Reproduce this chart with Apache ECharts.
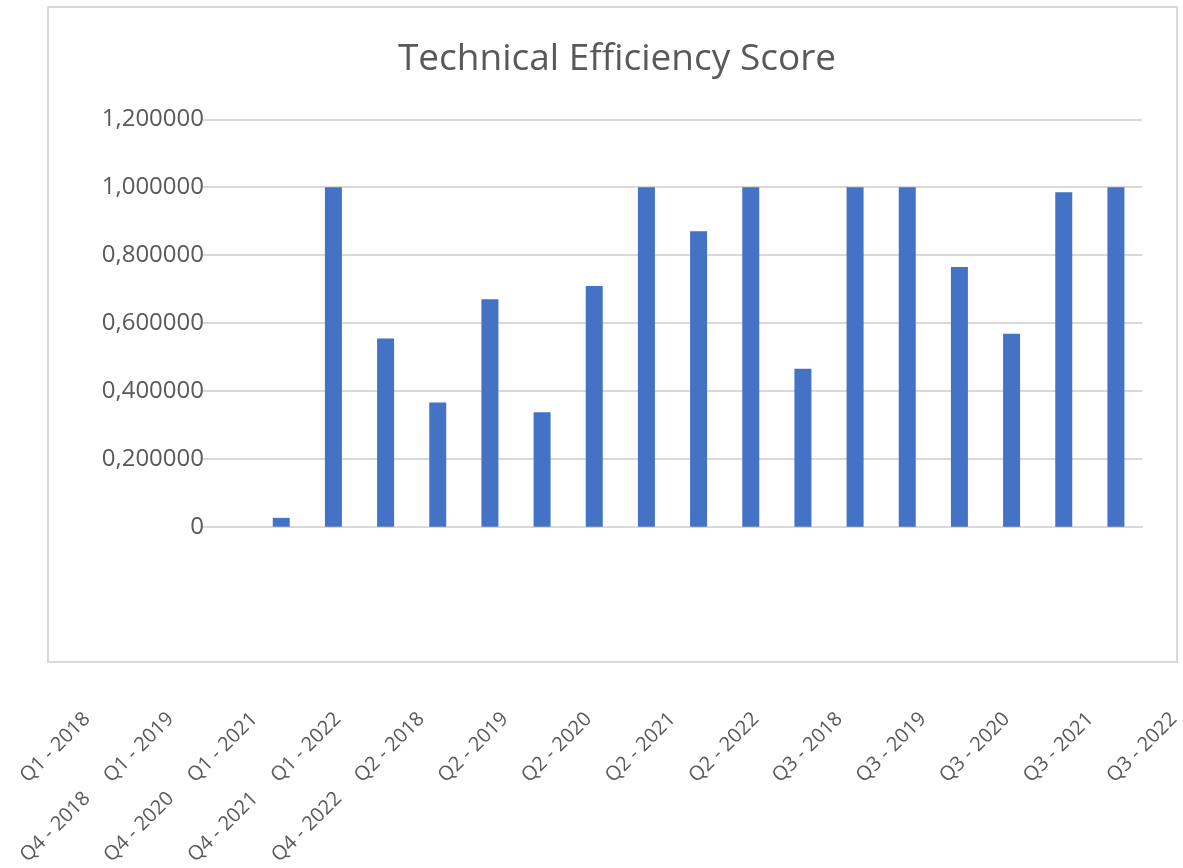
<!DOCTYPE html>
<html>
<head>
<meta charset="utf-8">
<script src="https://cdn.jsdelivr.net/npm/echarts@6/dist/echarts.min.js"></script>
<style>
html,body{margin:0;padding:0;background:#fff;}
#chart{width:1183px;height:868px;}
</style>
</head>
<body>
<div id="chart"></div>
<script>
// Categories (in order of the bars)
const categories = [
  'Q1 - 2018','Q1 - 2019','Q1 - 2021','Q1 - 2022',
  'Q2 - 2018','Q2 - 2019','Q2 - 2020','Q2 - 2021','Q2 - 2022',
  'Q3 - 2018','Q3 - 2019','Q3 - 2020','Q3 - 2021','Q3 - 2022',
  'Q4 - 2018','Q4 - 2020','Q4 - 2021','Q4 - 2022'
];
// Technical efficiency score per category (first category has no bar)
const scores = [
  null, 0.026, 1.000, 0.554,
  0.366, 0.670, 0.337, 0.709, 1.000,
  0.870, 1.000, 0.465, 1.000, 1.000,
  0.765, 0.568, 0.985, 1.000
];
// Label rows as shown under the chart
const labelRowTop = categories.slice(0, 14);
const labelRowBottom = categories.slice(14);
const yTicks = [0, 0.2, 0.4, 0.6, 0.8, 1.0, 1.2];
const titleText = 'Technical Efficiency Score';

const FONT = '"Open Sans", "Liberation Sans", sans-serif';
const GREY = '#595959';
const step = 83.85;

const chart = echarts.init(document.getElementById('chart'), null, {renderer: 'canvas'});
chart.setOption({
  animation: false,
  backgroundColor: '#ffffff',
  title: {
    text: titleText,
    left: 612,
    top: 36,
    textAlign: 'center',
    textStyle: {fontFamily: FONT, fontSize: 37, fontWeight: 'normal', color: GREY}
  },
  graphic: [{
    type: 'rect',
    shape: {x: 48, y: 7, width: 1129, height: 655},
    style: {fill: 'none', stroke: '#d9d9d9', lineWidth: 2},
    silent: true, z: -1
  }],
  grid: [
    {left: 203, right: 41, top: 119.3, height: 407.4, containLabel: false},
    {left: 87, width: step * 13, top: 690, height: 10},
    {left: 87, width: step * 3, top: 773, height: 10}
  ],
  xAxis: [
    {
      type: 'category', gridIndex: 0, data: categories,
      axisLine: {show: true, lineStyle: {color: '#d9d9d9', width: 2}},
      axisTick: {show: false},
      axisLabel: {show: false}
    },
    {
      type: 'category', gridIndex: 1, data: labelRowTop, boundaryGap: false,
      axisLine: {show: false}, axisTick: {show: false},
      axisLabel: {interval: 0, rotate: 45, margin: 16, hideOverlap: false,
        fontFamily: FONT, fontSize: 20, color: GREY}
    },
    {
      type: 'category', gridIndex: 2, data: labelRowBottom, boundaryGap: false,
      axisLine: {show: false}, axisTick: {show: false},
      axisLabel: {interval: 0, rotate: 45, margin: 16, hideOverlap: false,
        fontFamily: FONT, fontSize: 20, color: GREY}
    }
  ],
  yAxis: [
    {
      type: 'value', gridIndex: 0, min: yTicks[0], max: yTicks[yTicks.length - 1], interval: 0.2,
      axisLine: {show: false}, axisTick: {show: false},
      splitLine: {show: true, lineStyle: {color: '#d9d9d9', width: 2}},
      axisLabel: {
        margin: -1, fontFamily: FONT, fontSize: 24, color: GREY,
        formatter: v => (Math.abs(v) < 1e-9 ? '0' : v.toFixed(6).replace('.', ','))
      }
    },
    {type: 'value', gridIndex: 1, show: false},
    {type: 'value', gridIndex: 2, show: false}
  ],
  series: [{
    type: 'bar', xAxisIndex: 0, yAxisIndex: 0,
    data: scores, barWidth: 17,
    itemStyle: {color: '#4472c4'}
  }]
});
</script>
</body>
</html>
